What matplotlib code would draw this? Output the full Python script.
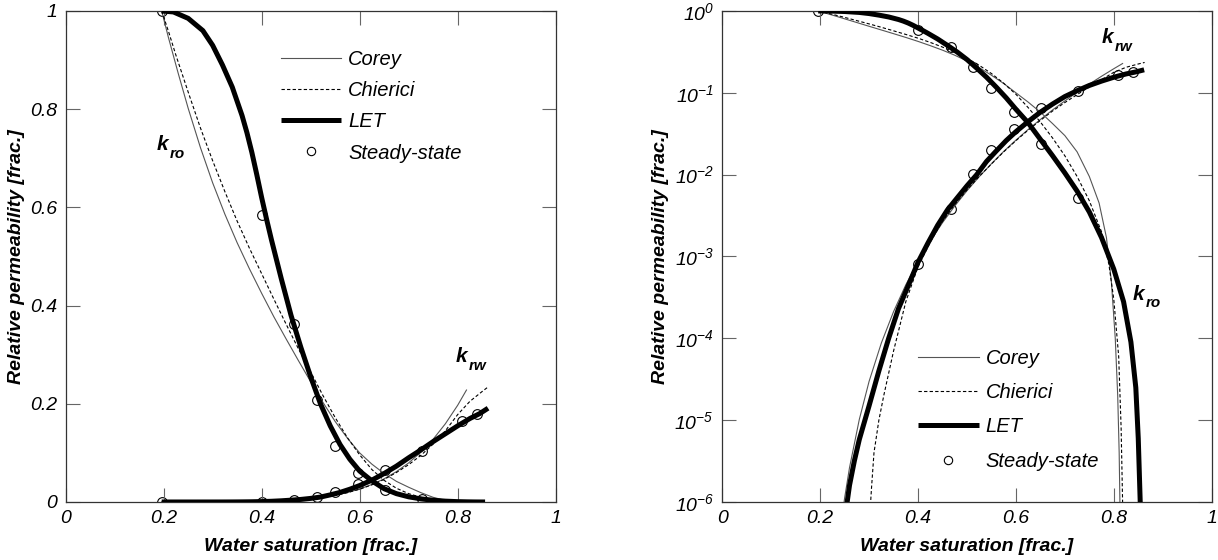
import numpy as np
import matplotlib
matplotlib.use("Agg")
import matplotlib.pyplot as plt
from matplotlib.lines import Line2D
from matplotlib.ticker import NullLocator, LogFormatterSciNotation

# --------------------
# Données
# --------------------
# Mesures steady-state
sw_ss = [0.196, 0.400, 0.467, 0.513, 0.549, 0.597, 0.651, 0.727, 0.808, 0.839]
kro_ss = [1.0, 0.585, 0.362, 0.208, 0.115, 0.059, 0.024, 0.0052, np.nan, np.nan]
krw_ss = [0.0, 0.0008, 0.0038, 0.0102, 0.0198, 0.036, 0.065, 0.104, 0.165, 0.179]

# LET
sw_let_o = [0.196, 0.22, 0.25, 0.28, 0.30, 0.32, 0.34, 0.36, 0.37, 0.38, 0.39, 0.40, 0.41, 0.42, 0.44,
            0.46, 0.48, 0.50, 0.52, 0.54, 0.56, 0.58, 0.60, 0.625, 0.65, 0.675, 0.70,
            0.725, 0.75, 0.775, 0.80, 0.82, 0.835, 0.845, 0.85, 0.854, 0.856]
kro_let = [1.0, 0.998, 0.985, 0.96, 0.93, 0.89, 0.845, 0.787, 0.752, 0.712, 0.667, 0.62, 0.576, 0.534, 0.455,
           0.38, 0.315, 0.255, 0.20, 0.155, 0.117, 0.087, 0.063, 0.043, 0.027, 0.017, 0.0105,
           0.0063, 0.0035, 0.0017, 0.0007, 0.00028, 9e-5, 2.5e-5, 6e-6, 1e-6, 0.0]
sw_let_w = [0.196, 0.22, 0.24, 0.25, 0.26, 0.27, 0.28, 0.30, 0.32, 0.34, 0.36, 0.38,
            0.40, 0.42, 0.44, 0.46, 0.48, 0.50, 0.52, 0.54, 0.56, 0.58, 0.60, 0.625,
            0.65, 0.675, 0.70, 0.725, 0.75, 0.775, 0.80, 0.825, 0.845, 0.862]
krw_let = [0.0, 1e-8, 2e-7, 6e-7, 1.6e-6, 3.2e-6, 5.8e-6, 1.5e-5, 4.0e-5, 1.0e-4, 2.3e-4, 4.4e-4,
           8.5e-4, 1.45e-3, 2.4e-3, 3.7e-3, 5.2e-3, 7.3e-3, 1.0e-2, 1.45e-2, 1.95e-2, 2.6e-2, 3.35e-2, 4.45e-2,
           5.8e-2, 7.3e-2, 9.0e-2, 0.106, 0.123, 0.139, 0.155, 0.170, 0.180, 0.191]

# Corey
sw_cor_o = [0.196, 0.21, 0.23, 0.25, 0.275, 0.30, 0.325, 0.35, 0.375, 0.40, 0.425, 0.45,
            0.475, 0.50, 0.525, 0.55, 0.575, 0.60, 0.625, 0.65, 0.675, 0.70, 0.725, 0.75,
            0.77, 0.785, 0.795, 0.803, 0.808, 0.811, 0.8125, 0.813]
kro_cor = [1.0, 0.945, 0.872, 0.802, 0.722, 0.65, 0.586, 0.528, 0.475, 0.425, 0.377, 0.332,
           0.288, 0.245, 0.203, 0.164, 0.13, 0.10, 0.077, 0.058, 0.042, 0.03, 0.019, 0.0095,
           0.0045, 0.0017, 5e-4, 1e-4, 2e-5, 4e-6, 1e-6, 0.0]
sw_cor_w = [0.196, 0.22, 0.24, 0.25, 0.26, 0.28, 0.30, 0.325, 0.35, 0.375, 0.40, 0.425,
            0.45, 0.475, 0.50, 0.525, 0.55, 0.575, 0.60, 0.625, 0.65, 0.675, 0.70, 0.725,
            0.75, 0.775, 0.80, 0.818]
krw_cor = [0.0, 2e-8, 4.0e-7, 1.12e-6, 2.63e-6, 1.02e-5, 2.98e-5, 8.75e-5, 2.12e-4, 4.5e-4, 8.65e-4, 1.54e-3,
           2.59e-3, 4.14e-3, 6.36e-3, 9.44e-3, 0.0136, 0.0192, 0.0264, 0.0356, 0.0472, 0.0618, 0.0796, 0.1015,
           0.1278, 0.1594, 0.1969, 0.228]

# Chierici
sw_chi_o = [0.196, 0.21, 0.225, 0.25, 0.275, 0.30, 0.325, 0.35, 0.375, 0.40, 0.425, 0.45,
            0.475, 0.50, 0.525, 0.55, 0.575, 0.60, 0.625, 0.65, 0.675, 0.70, 0.725, 0.75,
            0.775, 0.79, 0.80, 0.81, 0.815, 0.818, 0.82]
kro_chi = [1.0, 0.958, 0.91, 0.835, 0.762, 0.695, 0.632, 0.572, 0.517, 0.465, 0.413, 0.362,
           0.312, 0.265, 0.217, 0.172, 0.131, 0.096, 0.066, 0.044, 0.028, 0.017, 0.0095, 0.0048,
           0.002, 8e-4, 3e-4, 6e-5, 8e-6, 1e-6, 0.0]
sw_chi_w = [0.196, 0.30, 0.305, 0.31, 0.32, 0.33, 0.35, 0.375, 0.40, 0.425, 0.45, 0.475,
            0.50, 0.525, 0.55, 0.575, 0.60, 0.625, 0.65, 0.675, 0.70, 0.725, 0.75, 0.775,
            0.80, 0.825, 0.85, 0.863]
krw_chi = [0.0, 5e-7, 1.5e-6, 4e-6, 1.0e-5, 2.0e-5, 7e-5, 2.8e-4, 7.5e-4, 1.5e-3, 2.7e-3, 4.3e-3,
           6.5e-3, 9.5e-3, 0.0135, 0.019, 0.026, 0.035, 0.046, 0.06, 0.076, 0.095, 0.118, 0.145,
           0.178, 0.205, 0.225, 0.235]

legend_labels = ["Corey", "Chierici", "LET", "Steady-state"]
x_ticks = [0, 0.2, 0.4, 0.6, 0.8, 1]
x_ticklabels = ["0", "0.2", "0.4", "0.6", "0.8", "1"]
log_ticks = [1e-6, 1e-5, 1e-4, 1e-3, 1e-2, 1e-1, 1]

# --------------------
# Style
# --------------------
plt.rcParams["font.family"] = ["Liberation Sans", "DejaVu Sans"]
plt.rcParams["mathtext.fontset"] = "custom"
plt.rcParams["mathtext.rm"] = "Liberation Sans:italic"
plt.rcParams["mathtext.it"] = "Liberation Sans:italic"

style_cor = dict(color="#555555", lw=0.8, ls="-")
style_chi = dict(color="black", lw=0.8, ls=(0, (3, 2)))
style_let = dict(color="black", lw=3.6, ls="-", solid_capstyle="butt")
style_ss = dict(ls="none", marker="o", ms=7, mfc="none", mec="black", mew=0.8)

fig = plt.figure(figsize=(12.18, 5.6), dpi=100)
ax1 = fig.add_axes([0.0539, 0.1036, 0.4023, 0.8768])
ax2 = fig.add_axes([0.5930, 0.1036, 0.4018, 0.8768])


def draw(ax):
    # les cercles sont sous les courbes
    ax.plot(sw_ss, kro_ss, zorder=1, **style_ss)
    ax.plot(sw_ss, krw_ss, zorder=1, **style_ss)
    ax.plot(sw_cor_o, kro_cor, zorder=2, **style_cor)
    ax.plot(sw_cor_w, krw_cor, zorder=2, **style_cor)
    ax.plot(sw_chi_o, kro_chi, zorder=2, **style_chi)
    ax.plot(sw_chi_w, krw_chi, zorder=2, **style_chi)
    ax.plot(sw_let_o, kro_let, zorder=3, **style_let)
    ax.plot(sw_let_w, krw_let, zorder=3, **style_let)


def label_k(ax, x, y, sub):
    # k avec indice, gras italique
    ax.text(x, y, "k", fontsize=15, fontweight="bold", fontstyle="italic", ha="left", va="baseline")
    ax.annotate(sub, xy=(x, y), xytext=(9.5, -5.5), textcoords="offset points",
                fontsize=11, fontweight="bold", fontstyle="italic", ha="left", va="baseline")


def deco(ax):
    ax.set_xlim(0, 1)
    ax.set_xticks(x_ticks)
    ax.set_xticklabels(x_ticklabels)
    ax.tick_params(direction="in", length=10, width=0.8, color="#666666", top=True, right=True,
                   labelsize=14, pad=6)
    for t in ax.get_xticklabels() + ax.get_yticklabels():
        t.set_fontstyle("italic")
    for s in ax.spines.values():
        s.set_color("#333333")
        s.set_linewidth(0.9)
    ax.set_xlabel("Water saturation [frac.]", fontsize=14, fontweight="bold", fontstyle="italic", labelpad=8)
    ax.set_ylabel("Relative permeability [frac.]", fontsize=14, fontweight="bold", fontstyle="italic", labelpad=4)


def legende(ax, x, y, spacing):
    handles = [Line2D([], [], **style_cor), Line2D([], [], **style_chi),
               Line2D([], [], **style_let), Line2D([], [], **dict(style_ss, ms=6, mfc="white"))]
    leg = ax.legend(handles, legend_labels, loc="upper left", bbox_to_anchor=(x, y), frameon=False,
                    borderpad=0, borderaxespad=0, handlelength=3.0, handletextpad=0.35,
                    labelspacing=spacing, prop=dict(size=14.5, style="italic"))
    return leg


# --------------------
# Graphe linéaire
# --------------------
draw(ax1)
ax1.set_ylim(0, 1)
ax1.set_yticks(x_ticks)
ax1.set_yticklabels(x_ticklabels)
deco(ax1)
label_k(ax1, 0.186, 0.717, "ro")
label_k(ax1, 0.795, 0.285, "rw")
legende(ax1, 0.439, 0.92, 0.6)

# --------------------
# Graphe logarithmique
# --------------------
draw(ax2)
ax2.set_yscale("log", nonpositive="clip")
ax2.set_ylim(1e-6, 1)
ax2.set_yticks(log_ticks)
ax2.yaxis.set_minor_locator(NullLocator())
ax2.yaxis.set_major_formatter(LogFormatterSciNotation())
deco(ax2)
label_k(ax2, 0.775, 0.407, "rw")
label_k(ax2, 0.839, 2.96e-4, "ro")
legende(ax2, 0.4005, 0.312, 0.76)

fig.savefig("out.png", dpi=100)
